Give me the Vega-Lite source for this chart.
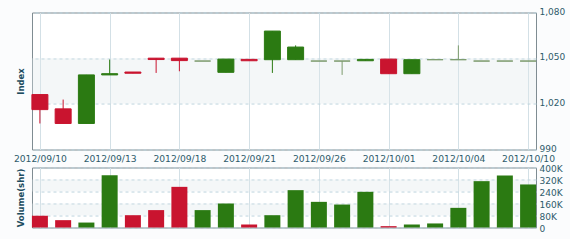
{
  "$schema": "https://vega.github.io/schema/vega-lite/v6.json",
  "background": "#fbfcfd",
  "padding": {"left": 12, "top": 6.5, "right": 4, "bottom": 4},
  "datasets": {
    "ohlc": [
      {"date": "2012/09/10", "open": 1026.1, "high": 1026.1, "low": 1007.1, "close": 1016.2, "volume": 78000},
      {"date": "2012/09/11", "open": 1016.7, "high": 1022.8, "low": 1007.1, "close": 1007.1, "volume": 49000},
      {"date": "2012/09/12", "open": 1007.1, "high": 1039.0, "low": 1007.1, "close": 1039.0, "volume": 33000},
      {"date": "2012/09/13", "open": 1039.0, "high": 1049.1, "low": 1039.0, "close": 1039.8, "volume": 349000},
      {"date": "2012/09/14", "open": 1040.9, "high": 1040.9, "low": 1040.1, "close": 1040.1, "volume": 82000},
      {"date": "2012/09/17", "open": 1050.0, "high": 1050.0, "low": 1040.3, "close": 1049.1, "volume": 116000},
      {"date": "2012/09/18", "open": 1050.0, "high": 1050.0, "low": 1041.4, "close": 1048.4, "volume": 271000},
      {"date": "2012/09/19", "open": 1048.1, "high": 1048.1, "low": 1048.1, "close": 1048.1, "volume": 116000},
      {"date": "2012/09/20", "open": 1040.7, "high": 1049.4, "low": 1040.7, "close": 1049.4, "volume": 160000},
      {"date": "2012/09/21", "open": 1049.2, "high": 1049.2, "low": 1048.3, "close": 1048.3, "volume": 20000},
      {"date": "2012/09/24", "open": 1049.0, "high": 1067.8, "low": 1040.3, "close": 1067.8, "volume": 82000},
      {"date": "2012/09/25", "open": 1049.0, "high": 1058.4, "low": 1049.0, "close": 1057.3, "volume": 249000},
      {"date": "2012/09/26", "open": 1048.1, "high": 1048.1, "low": 1048.1, "close": 1048.1, "volume": 171000},
      {"date": "2012/09/27", "open": 1048.1, "high": 1048.1, "low": 1039.0, "close": 1048.1, "volume": 153000},
      {"date": "2012/09/28", "open": 1048.3, "high": 1049.2, "low": 1048.3, "close": 1049.2, "volume": 238000},
      {"date": "2012/10/01", "open": 1049.4, "high": 1049.4, "low": 1039.8, "close": 1039.8, "volume": 9000},
      {"date": "2012/10/02", "open": 1039.8, "high": 1049.0, "low": 1039.8, "close": 1049.0, "volume": 20000},
      {"date": "2012/10/03", "open": 1049.0, "high": 1049.0, "low": 1049.0, "close": 1049.0, "volume": 27000},
      {"date": "2012/10/04", "open": 1049.0, "high": 1058.4, "low": 1049.0, "close": 1049.0, "volume": 131000},
      {"date": "2012/10/05", "open": 1048.1, "high": 1048.1, "low": 1048.1, "close": 1048.1, "volume": 309000},
      {"date": "2012/10/09", "open": 1048.1, "high": 1048.1, "low": 1048.1, "close": 1048.1, "volume": 347000},
      {"date": "2012/10/10", "open": 1048.1, "high": 1048.1, "low": 1048.1, "close": 1048.1, "volume": 287000}
    ],
    "priceBands": [{"lo": 1020, "hi": 1050}],
    "volumeBands": [{"lo": 80000, "hi": 160000}, {"lo": 240000, "hi": 320000}]
  },
  "spacing": 18,
  "bounds": "flush",
  "config": {
    "font": "DejaVu Sans",
    "view": {"stroke": "#7f8c92", "strokeWidth": 1, "fill": "#ffffff"},
    "axis": {
      "labelFont": "DejaVu Sans",
      "labelFontSize": 9,
      "labelColor": "#2e5b6b",
      "titleFont": "DejaVu Sans",
      "titleFontSize": 8.5,
      "titleFontWeight": "bold",
      "titleColor": "#1d4d60",
      "domain": false,
      "ticks": false
    }
  },
  "vconcat": [
    {
      "width": 504,
      "height": 137,
      "resolve": {"axis": {"y": "independent"}},
      "layer": [
        {
          "data": {"name": "priceBands"},
          "mark": {"type": "rect", "color": "#dfe7ec", "opacity": 0.35},
          "encoding": {
            "y": {"field": "lo", "type": "quantitative", "scale": {"domain": [990, 1080], "nice": false, "zero": false},
                  "axis": {"orient": "left", "title": "Index", "labels": false, "grid": false, "titlePadding": 7}},
            "y2": {"field": "hi"}
          }
        },
        {
          "data": {"name": "ohlc"},
          "mark": {"type": "rule", "strokeWidth": 1},
          "encoding": {
            "x": {"field": "date", "type": "ordinal", "sort": null, "scale": {"type": "point", "padding": 0.34},
                  "axis": {"title": null, "values": ["2012/09/10", "2012/09/13", "2012/09/18", "2012/09/21", "2012/09/26", "2012/10/01", "2012/10/04", "2012/10/10"],
                           "labelAngle": 0, "labelFontSize": 9.2, "labelPadding": 5, "labelOverlap": false, "labelBound": false,
                           "grid": true, "gridColor": "#d3e0e6", "gridWidth": 1}},
            "y": {"field": "low", "type": "quantitative", "axis": null},
            "y2": {"field": "high"},
            "color": {"condition": [{"test": "datum.close > datum.open", "value": "#2b7a12"}, {"test": "datum.close < datum.open", "value": "#c9142f"}], "value": "#7b9a6c"}
          }
        },
        {
          "data": {"name": "ohlc"},
          "mark": {"type": "bar", "size": 16, "strokeWidth": 1},
          "encoding": {
            "x": {"field": "date", "type": "ordinal", "sort": null},
            "y": {"field": "open", "type": "quantitative",
                  "axis": {"orient": "right", "title": null, "values": [990, 1020, 1050, 1080], "format": ",.0f", "labelPadding": 3, "labelOffset": -1.5,
                           "grid": true, "gridDash": [3, 3], "gridColor": "#b9d2dc"}},
            "y2": {"field": "close"},
            "color": {"condition": [{"test": "datum.close > datum.open", "value": "#2b7a12"}, {"test": "datum.close < datum.open", "value": "#c9142f"}], "value": "#7b9a6c"},
            "stroke": {"condition": [{"test": "datum.close > datum.open", "value": "#2b7a12"}, {"test": "datum.close < datum.open", "value": "#c9142f"}], "value": "#7b9a6c"}
          }
        }
      ]
    },
    {
      "width": 504,
      "height": 60,
      "resolve": {"axis": {"y": "independent"}},
      "layer": [
        {
          "data": {"name": "volumeBands"},
          "mark": {"type": "rect", "color": "#dfe7ec", "opacity": 0.35},
          "encoding": {
            "y": {"field": "lo", "type": "quantitative", "scale": {"domain": [0, 400000], "nice": false},
                  "axis": {"orient": "left", "title": "Volume(shr)", "labels": false, "grid": false, "titlePadding": 7}},
            "y2": {"field": "hi"}
          }
        },
        {
          "data": {"name": "ohlc"},
          "mark": {"type": "bar", "size": 16},
          "encoding": {
            "x": {"field": "date", "type": "ordinal", "sort": null, "scale": {"type": "point", "padding": 0.34},
                  "axis": {"title": null, "labels": false, "values": ["2012/09/10", "2012/09/13", "2012/09/18", "2012/09/21", "2012/09/26", "2012/10/01", "2012/10/04", "2012/10/10"],
                           "grid": true, "gridColor": "#d3e0e6", "gridWidth": 1}},
            "y": {"field": "volume", "type": "quantitative",
                  "axis": {"orient": "right", "title": null, "values": [0, 80000, 160000, 240000, 320000, 400000],
                           "labelExpr": "datum.value == 0 ? '0' : (datum.value / 1000) + 'K'", "labelPadding": 3, "labelOffset": 1,
                           "grid": true, "gridDash": [3, 3], "gridColor": "#b9d2dc"}},
            "color": {"condition": {"test": "datum.close < datum.open", "value": "#c9142f"}, "value": "#2b7a12"}
          }
        }
      ]
    }
  ]
}
